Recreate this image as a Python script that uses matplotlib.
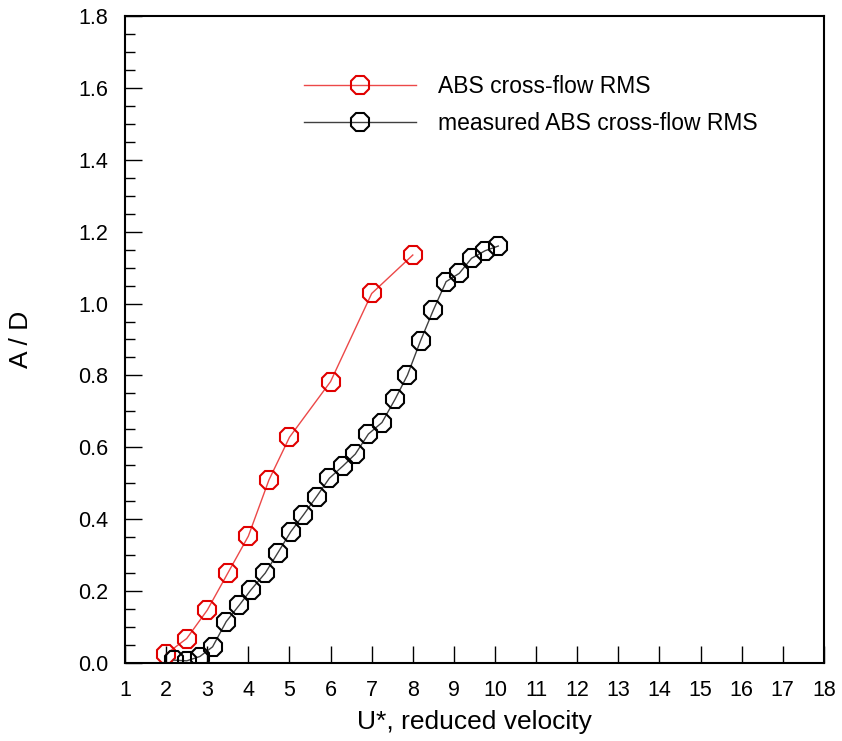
import numpy as np
import matplotlib
matplotlib.use("Agg")
import matplotlib.pyplot as plt
from matplotlib.ticker import MultipleLocator

plt.rcParams['font.family'] = ['Liberation Sans', 'DejaVu Sans']

# predicted ABS cross-flow RMS
u_abs = [2.0, 2.5, 3.0, 3.5, 4.0, 4.5, 5.0, 6.0, 7.0, 8.0]
a_abs = [0.025, 0.068, 0.147, 0.25, 0.353, 0.509, 0.628, 0.783, 1.028, 1.135]

# measured ABS cross-flow RMS
u_meas = [2.18, 2.50, 2.82, 3.13, 3.46, 3.78, 4.06, 4.41, 4.72, 5.03, 5.34, 5.66, 5.97,
          6.30, 6.60, 6.92, 7.25, 7.57, 7.87, 8.19, 8.50, 8.81, 9.13, 9.43, 9.76, 10.08]
a_meas = [0.008, 0.006, 0.018, 0.045, 0.115, 0.161, 0.203, 0.250, 0.307, 0.365, 0.412,
          0.463, 0.514, 0.548, 0.581, 0.637, 0.669, 0.734, 0.801, 0.897, 0.982, 1.061,
          1.084, 1.126, 1.147, 1.160]

fig = plt.figure(figsize=(8.42, 7.41), dpi=100)
ax = fig.add_axes([0.1485, 0.1053, 0.83, 0.8731])

ax.plot(u_abs, a_abs, color='#ec4848', lw=1.0, marker='8', ms=14,
        mfc='none', mec='#e00000', mew=1.5, label='ABS cross-flow RMS')
ax.plot(u_meas, a_meas, color='#404040', lw=1.0, marker='8', ms=14,
        mfc='none', mec='black', mew=1.5, label='measured ABS cross-flow RMS')

ax.set_xlim(1, 18)
ax.set_ylim(0, 1.8)
ax.xaxis.set_major_locator(MultipleLocator(1))
ax.yaxis.set_major_locator(MultipleLocator(0.2))
ax.yaxis.set_minor_locator(MultipleLocator(0.05))
ax.yaxis.set_major_formatter(plt.FuncFormatter(lambda v, p: '%.1f' % v))

ax.tick_params(axis='both', which='major', direction='in', length=12, width=1.0,
               labelsize=15.5, top=False, right=False, pad=12)
ax.tick_params(axis='y', which='minor', direction='in', length=7, width=1.0, right=False)
for s in ax.spines.values():
    s.set_linewidth(1.5)

ax.set_xlabel('U*, reduced velocity', fontsize=19)
ax.set_ylabel('A / D', fontsize=19)
ax.xaxis.set_label_coords(0.5, -0.072)
ax.yaxis.set_label_coords(-0.132, 0.5)

ax.legend(loc='upper left', bbox_to_anchor=(0.256, 0.909), frameon=False,
          fontsize=16.5, handlelength=4.9, handletextpad=0.95, borderpad=0,
          borderaxespad=0, labelspacing=0.62)

fig.savefig('out.png', dpi=100)
